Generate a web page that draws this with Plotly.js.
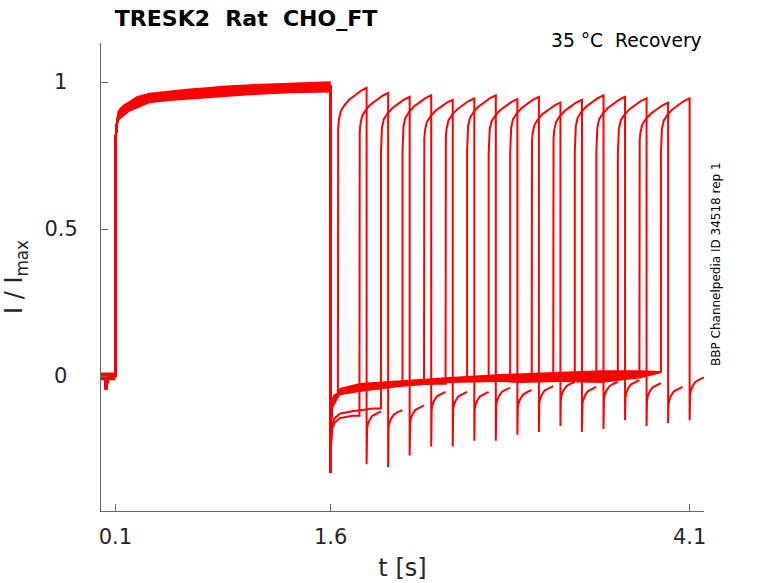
<!DOCTYPE html>
<html>
<head>
<meta charset="utf-8">
<script src="https://cdn.plot.ly/plotly-3.0.1.min.js"></script>
<style>
  html, body { margin: 0; padding: 0; background: #fff; }
  #chart { width: 778px; height: 583px; }
</style>
</head>
<body>
<div id="chart"></div>
<script>
// holding level before the conditioning step (t in s, I/Imax)
const baseT = [0, 0.03, 0.034, 0.04, 0.046, 0.1];
const baseY = [0, -0.002, -0.046, -0.04, -0.002, 0];

// conditioning step 0.1 .. 1.6 s (mean of the sweeps)
const pulse1T = [0.1, 0.107, 0.114, 0.128, 0.156, 0.198, 0.247, 0.337, 0.477, 0.616, 0.756, 0.84, 1.035, 1.314, 1.6];
const pulse1Y = [0.8, 0.84, 0.874, 0.89, 0.903, 0.918, 0.932, 0.946, 0.954, 0.96, 0.964, 0.969, 0.974, 0.98, 0.984];

// noise band of the overlapping sweeps during holding + conditioning step
const envT = [0, 0.1, 0.1, 0.107, 0.114, 0.128, 0.156, 0.198, 0.247, 0.337, 0.477, 0.616, 0.756, 0.84, 1.035, 1.314, 1.593, 1.6];
const envTop = [0.012, 0.012, 0.85, 0.888, 0.899, 0.91, 0.924, 0.936, 0.952, 0.964, 0.972, 0.978, 0.983, 0.988, 0.993, 0.999, 1.003, 1.003];
const envBot = [-0.014, -0.014, 0.75, 0.79, 0.848, 0.871, 0.882, 0.899, 0.909, 0.928, 0.936, 0.941, 0.946, 0.95, 0.955, 0.962, 0.965, 0.965];

// tail after the conditioning step
const tail1T = [1.6, 1.602, 1.61, 1.625, 1.663, 1.75, 1.9, 2.08, 2.43, 2.78, 3.2, 3.48, 3.76, 3.9];
const tail1Y = [-0.33, -0.15, -0.09, -0.07, -0.053, -0.045, -0.035, -0.026, -0.014, -0.007, -0.003, 0.0, 0.007, 0.014];
const tailEnvT = [1.605, 1.663, 1.802, 2.081, 2.43, 2.78, 2.92, 3.2, 3.48, 3.76, 3.9];
const tailEnvTop = [-0.09, -0.041, -0.024, -0.014, -0.003, 0.007, 0.010, 0.014, 0.020, 0.020, 0.017];
const tailEnvBot = [-0.12, -0.065, -0.054, -0.037, -0.024, -0.020, -0.024, -0.020, -0.024, -0.007, 0.010];

// test pulses, one per sweep
const testStart = [1.65, 1.8, 1.95, 2.1, 2.25, 2.4, 2.55, 2.7, 2.85, 3.0, 3.15, 3.3, 3.45, 3.6, 3.75, 3.9];
const testDur = 0.2;
const testPeak = [0.98, 0.963, 0.95, 0.955, 0.94, 0.945, 0.955, 0.942, 0.95, 0.93, 0.94, 0.955, 0.95, 0.945, 0.93, 0.945];
const testDip = [-0.30, -0.31, -0.27, -0.24, -0.24, -0.22, -0.22, -0.20, -0.19, -0.17, -0.19, -0.18, -0.15, -0.17, -0.16, -0.15];
const tail2End = [-0.12, -0.116, -0.10, -0.054, -0.054, -0.054, -0.04, -0.048, -0.034, -0.02, -0.037, -0.02, -0.014, -0.024, -0.037, -0.005];
const tailShift = [0, -0.09, -0.075, 0, 0, 0, 0, 0, 0, 0, 0, 0, 0, 0, 0, 0];

// shape of a test pulse (time after onset, fraction of the end level)
const testDt = [0, 0.002, 0.007, 0.02, 0.045, 0.08, 0.12, 0.16, 0.2];
const testFrac = [0.8, 0.86, 0.89, 0.92, 0.94, 0.96, 0.975, 0.99, 1.0];
// shape of the tail after a test pulse (time after offset, offset from the end level)
const tail2Dt = [0.003, 0.008, 0.02, 0.04, 0.07, 0.1];
const tail2Off = [-0.06, -0.045, -0.03, -0.015, -0.006, 0];

const xTicks = [0.1, 1.6, 4.1];
const xTickText = ['0.1', '1.6', '4.1'];
const yTicks = [0, 0.5, 1];
const yTickText = ['0\u2002', '0.5', '1\u2002'];

const RED = '#ff0000';
const traces = [];

function band(x, lo, hi) {
  traces.push({ x, y: lo, type: 'scatter', mode: 'lines', line: { width: 0, color: RED }, hoverinfo: 'skip', showlegend: false });
  traces.push({ x, y: hi, type: 'scatter', mode: 'lines', fill: 'tonexty', fillcolor: RED, line: { width: 0, color: RED }, hoverinfo: 'skip', showlegend: false });
}
band(envT, envBot, envTop);
band(tailEnvT, tailEnvBot, tailEnvTop);

testStart.forEach((start, k) => {
  const x = [];
  const y = [];
  baseT.forEach((t, i) => { x.push(t); y.push(baseY[i]); });
  pulse1T.forEach((t, i) => { x.push(t); y.push(pulse1Y[i]); });
  tail1T.forEach((t, i) => {
    if (t > start) return;
    x.push(t);
    y.push(i === 0 ? tail1Y[i] : tail1Y[i] + tailShift[k]);
  });
  // step up to the test pulse
  x.push(start);
  y.push(y[y.length - 1]);
  testDt.forEach((dt, i) => { x.push(start + dt); y.push(testFrac[i] * testPeak[k]); });
  const stop = start + testDur;
  x.push(stop);
  y.push(testDip[k]);
  tail2Dt.forEach((dt, i) => { x.push(stop + dt); y.push(tail2End[k] + tail2Off[i]); });

  traces.push({
    x, y,
    type: 'scatter',
    mode: 'lines',
    line: { color: RED, width: 2 },
    hoverinfo: 'skip',
    showlegend: false,
  });
});

const axisColor = '#666666';

const layout = {
  width: 778,
  height: 583,
  margin: { l: 101, r: 74, t: 43, b: 72 },
  paper_bgcolor: '#ffffff',
  plot_bgcolor: '#ffffff',
  font: { family: 'DejaVu Sans, sans-serif', color: '#262626' },
  title: {
    text: 'TRESK2\u00a0\u00a0Rat\u00a0\u00a0CHO_FT',
    font: { size: 22, color: '#000000', weight: 'bold' },
    xref: 'paper', x: 0.023, xanchor: 'left',
    yref: 'container', y: 0.969, yanchor: 'middle',
  },
  xaxis: {
    range: [0, 4.2],
    tickmode: 'array',
    tickvals: xTicks,
    ticktext: xTickText,
    ticks: 'inside',
    ticklen: 7,
    tickcolor: axisColor,
    showline: true,
    linecolor: axisColor,
    linewidth: 1,
    showgrid: false,
    zeroline: false,
    tickfont: { size: 21, color: '#262626' },
    ticklabelstandoff: 7,
    title: { text: 't [s]', font: { size: 24, color: '#262626' }, standoff: 10 },
  },
  yaxis: {
    range: [-0.459, 1.133],
    tickmode: 'array',
    tickvals: yTicks,
    ticktext: yTickText,
    ticks: 'inside',
    ticklen: 7,
    tickcolor: axisColor,
    showline: true,
    linecolor: axisColor,
    linewidth: 1,
    showgrid: false,
    zeroline: false,
    tickfont: { size: 21, color: '#262626' },
    ticklabelstandoff: 18,
    title: { text: 'I / I<sub>max</sub>', font: { size: 24, color: '#262626' }, standoff: 14 },
  },
  annotations: [
    {
      text: '35 °C\u00a0\u00a0Recovery',
      xref: 'paper', yref: 'paper', x: 1.0, y: 1.006,
      xanchor: 'right', yanchor: 'middle',
      showarrow: false,
      font: { size: 18.7, color: '#000000' },
    },
    {
      text: 'BBP Channelpedia ID 34518 rep 1',
      xref: 'paper', yref: 'paper', x: 1.02, y: 0.528,
      xanchor: 'center', yanchor: 'middle',
      textangle: -90,
      showarrow: false,
      font: { size: 12, color: '#000000' },
    },
  ],
};

Plotly.newPlot('chart', traces, layout, { displayModeBar: false, staticPlot: true });
</script>
</body>
</html>
